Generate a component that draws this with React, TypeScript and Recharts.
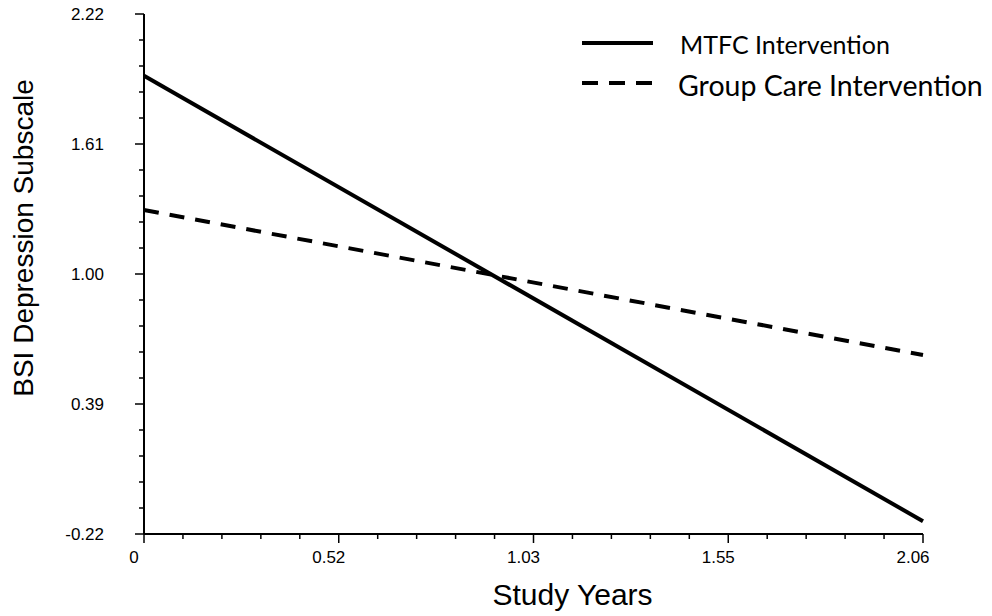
import React from 'react'
import { LineChart, Line, XAxis, YAxis } from 'recharts'

// Study years (x) and the two fitted trajectories
const studyYears = [0, 2.06]
const mtfcValues = [1.93, -0.16]
const groupCareValues = [1.3, 0.62]

// Axis ticks: major values + printed labels
const xMajorTicks = [0, 0.515, 1.03, 1.545, 2.06]
const xTickLabels = ['0', '0.52', '1.03', '1.55', '2.06']
const yMajorTicks = [-0.22, 0.39, 1.0, 1.61, 2.22]
const yTickLabels = ['-0.22', '0.39', '1.00', '1.61', '2.22']

const series = [
  { key: 'mtfc', name: 'MTFC Intervention', dash: undefined as string | undefined },
  { key: 'group', name: 'Group Care Intervention', dash: '15 11' },
]

const data = studyYears.map((year, i) => ({
  year,
  mtfc: mtfcValues[i],
  group: groupCareValues[i],
}))

// 4 minor ticks between each pair of majors
function withMinor(majors: number[]) {
  const out: number[] = []
  for (let i = 0; i < majors.length; i++) {
    out.push(majors[i])
    if (i < majors.length - 1) {
      const step = (majors[i + 1] - majors[i]) / 5
      for (let k = 1; k < 5; k++) out.push(+(majors[i] + step * k).toFixed(4))
    }
  }
  return out
}

const AXIS_FONT = '"Liberation Sans", Arial, sans-serif'
const LEGEND_FONT = 'Lato, "Open Sans", sans-serif'

function majorIndex(majors: number[], v: number) {
  return majors.findIndex((m) => Math.abs(m - v) < 1e-6)
}

function YTick(props: any) {
  const { x, y, payload } = props
  const idx = majorIndex(yMajorTicks, payload.value)
  const major = idx >= 0
  return (
    <g>
      <line x1={x - (major ? 9 : 5)} y1={y} x2={x} y2={y} stroke="#000" strokeWidth={1.5} />
      {major && (
        <text x={x - 40} y={y} dy="0.36em" textAnchor="end" fontSize={17} fontFamily={AXIS_FONT} fill="#000">
          {yTickLabels[idx]}
        </text>
      )}
    </g>
  )
}

function XTick(props: any) {
  const { x, y, payload } = props
  const idx = majorIndex(xMajorTicks, payload.value)
  const major = idx >= 0
  return (
    <g>
      <line x1={x} y1={y} x2={x} y2={y + (major ? 9 : 5)} stroke="#000" strokeWidth={1.5} />
      {major && (
        <text x={x - 10} y={y + 29} textAnchor="middle" fontSize={17} fontFamily={AXIS_FONT} fill="#000">
          {xTickLabels[idx]}
        </text>
      )}
    </g>
  )
}

export default function App() {
  return (
    <div style={{ position: 'absolute', left: 0, top: 0, width: 992, height: 616, background: '#fff' }}>
      <LineChart width={992} height={616} data={data} margin={{ top: 14, right: 69, bottom: 0, left: 0 }}>
        <XAxis
          dataKey="year"
          type="number"
          domain={[0, 2.06]}
          ticks={withMinor(xMajorTicks)}
          interval={0}
          height={82}
          tickSize={0}
          tickMargin={0}
          tick={<XTick />}
          axisLine={{ stroke: '#000', strokeWidth: 2 }}
          label={{
            content: ({ viewBox }: any) => (
              <text
                x={viewBox.x + viewBox.width / 2 + 39}
                y={605}
                textAnchor="middle"
                fontSize={30}
                fontFamily={AXIS_FONT}
                fill="#000"
              >
                Study Years
              </text>
            ),
          }}
        />
        <YAxis
          type="number"
          domain={[-0.22, 2.22]}
          ticks={withMinor(yMajorTicks)}
          interval={0}
          width={144}
          tickSize={0}
          tickMargin={0}
          tick={<YTick />}
          axisLine={{ stroke: '#000', strokeWidth: 2 }}
          label={{
            content: () => (
              <text
                x={33}
                y={238}
                transform="rotate(-90 33 238)"
                textAnchor="middle"
                fontSize={28}
                fontFamily={AXIS_FONT}
                fill="#000"
              >
                BSI Depression Subscale
              </text>
            ),
          }}
        />
        {series.map((s) => (
          <Line
            key={s.key}
            type="linear"
            dataKey={s.key}
            name={s.name}
            stroke="#000"
            strokeWidth={4}
            strokeDasharray={s.dash}
            dot={false}
            activeDot={false}
            isAnimationActive={false}
          />
        ))}
      </LineChart>

      {/* legend, top right */}
      <svg width={992} height={616} style={{ position: 'absolute', left: 0, top: 0, pointerEvents: 'none' }}>
        <line x1={582} y1={43} x2={653} y2={43} stroke="#000" strokeWidth={4} />
        <text x={680} y={54} fontSize={25} fontFamily={LEGEND_FONT} fill="#000">
          {series[0].name}
        </text>
        <line x1={582} y1={83} x2={652} y2={83} stroke="#000" strokeWidth={4} strokeDasharray="16 11" />
        <text x={678} y={96} fontSize={28.5} fontFamily={LEGEND_FONT} fill="#000">
          {series[1].name}
        </text>
      </svg>
    </div>
  )
}
